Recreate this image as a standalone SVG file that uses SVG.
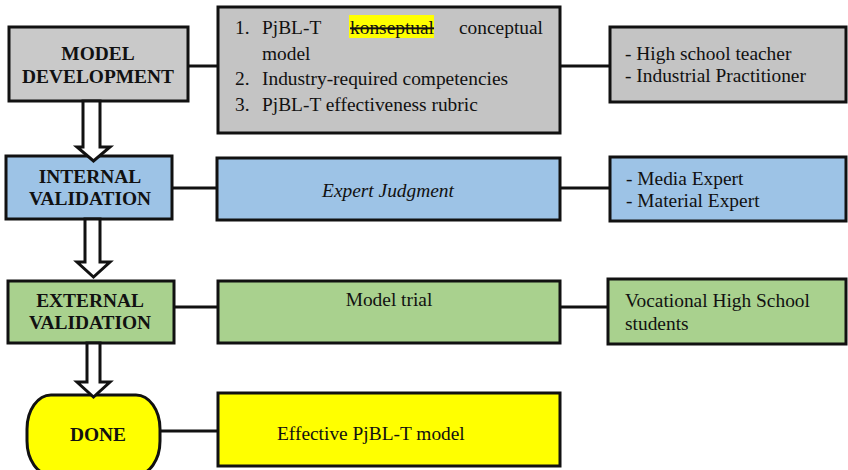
<svg xmlns="http://www.w3.org/2000/svg" width="848" height="470" viewBox="0 0 848 470">
<style>
.box{stroke:#111;stroke-width:3}
.gray{fill:#c4c4c4}
.blue{fill:#9dc3e6}
.green{fill:#a9d18e}
.yellow{fill:#ffff00}
text{font-family:"Liberation Serif","Times New Roman",serif;font-size:19.4px;fill:#111}
.h{font-weight:bold;text-anchor:middle}
.c{text-anchor:middle}
.line{stroke:#111;stroke-width:3;fill:none}
.arrow{fill:#fff;stroke:#111;stroke-width:3;stroke-linejoin:miter}
</style>
<rect width="848" height="470" fill="#fff"/>
<g id="connectors-lines">
<line class="line" x1="188" y1="66" x2="218" y2="66"/>
<line class="line" x1="560" y1="66" x2="610" y2="66"/>
<line class="line" x1="172" y1="188" x2="217" y2="188"/>
<line class="line" x1="560" y1="188" x2="610" y2="188"/>
<line class="line" x1="174" y1="307" x2="218" y2="307"/>
<line class="line" x1="560" y1="307" x2="608" y2="307"/>
<line class="line" x1="160" y1="431" x2="218" y2="431"/>
</g>
<g id="model-development">
<rect class="box" x="9" y="27" width="179" height="74" fill="#c9c9c9"/>
<text class="h" x="98" y="60">MODEL</text>
<text class="h" x="98" y="83">DEVELOPMENT</text>
</g>
<g id="model-outputs">
<rect class="box gray" x="218" y="7" width="342" height="126"/>
<rect x="349" y="15" width="85" height="23" fill="#ffff00"/>
<text x="235" y="34">1.</text>
<text x="262" y="34">PjBL-T</text>
<text x="350" y="34" text-decoration="line-through">konseptual</text>
<text x="543" y="34" text-anchor="end">conceptual</text>
<text x="262" y="60">model</text>
<text x="235" y="85">2.</text>
<text x="262" y="85">Industry-required competencies</text>
<text x="235" y="111">3.</text>
<text x="262" y="111">PjBL-T effectiveness rubric</text>
</g>
<g id="model-participants">
<rect class="box gray" x="610" y="27" width="236" height="75"/>
<text x="625" y="60">- High school teacher</text>
<text x="625" y="82">- Industrial Practitioner</text>
</g>
<g id="internal-validation">
<rect class="box blue" x="6" y="156" width="166" height="63"/>
<text class="h" x="90" y="183">INTERNAL</text>
<text class="h" x="90" y="205">VALIDATION</text>
</g>
<g id="expert-judgment">
<rect class="box blue" x="217" y="158" width="343" height="62"/>
<text class="c" x="388" y="197" font-style="italic">Expert Judgment</text>
</g>
<g id="experts">
<rect class="box blue" x="610" y="157" width="236" height="64"/>
<text x="626" y="185">- Media Expert</text>
<text x="626" y="207">- Material Expert</text>
</g>
<g id="external-validation">
<rect class="box green" x="8" y="281" width="166" height="62"/>
<text class="h" x="90" y="307">EXTERNAL</text>
<text class="h" x="90" y="329">VALIDATION</text>
</g>
<g id="model-trial">
<rect class="box green" x="218" y="281" width="342" height="62"/>
<text class="c" x="389" y="306">Model trial</text>
</g>
<g id="students">
<rect class="box green" x="608" y="279" width="238" height="65"/>
<text x="625" y="307">Vocational High School</text>
<text x="625" y="330">students</text>
</g>
<g id="done">
<rect class="box yellow" x="27" y="395" width="133" height="80" rx="24" ry="34"/>
<text class="h" x="98" y="441">DONE</text>
</g>
<g id="effective-model">
<rect class="box yellow" x="218" y="393" width="342" height="73"/>
<text x="277" y="440">Effective PjBL-T model</text>
</g>
<g id="connectors">
<path class="arrow" d="M83,101 V147 H77 L93.5,161 L110,147 H100 V101 Z"/>
<path class="arrow" d="M85,219 V262 H77 L93.5,277 L110,262 H100 V219 Z"/>
<path class="arrow" d="M87,343 V382 H77 L93.5,397 L110,382 H100 V343 Z"/>
</g>
</svg>
